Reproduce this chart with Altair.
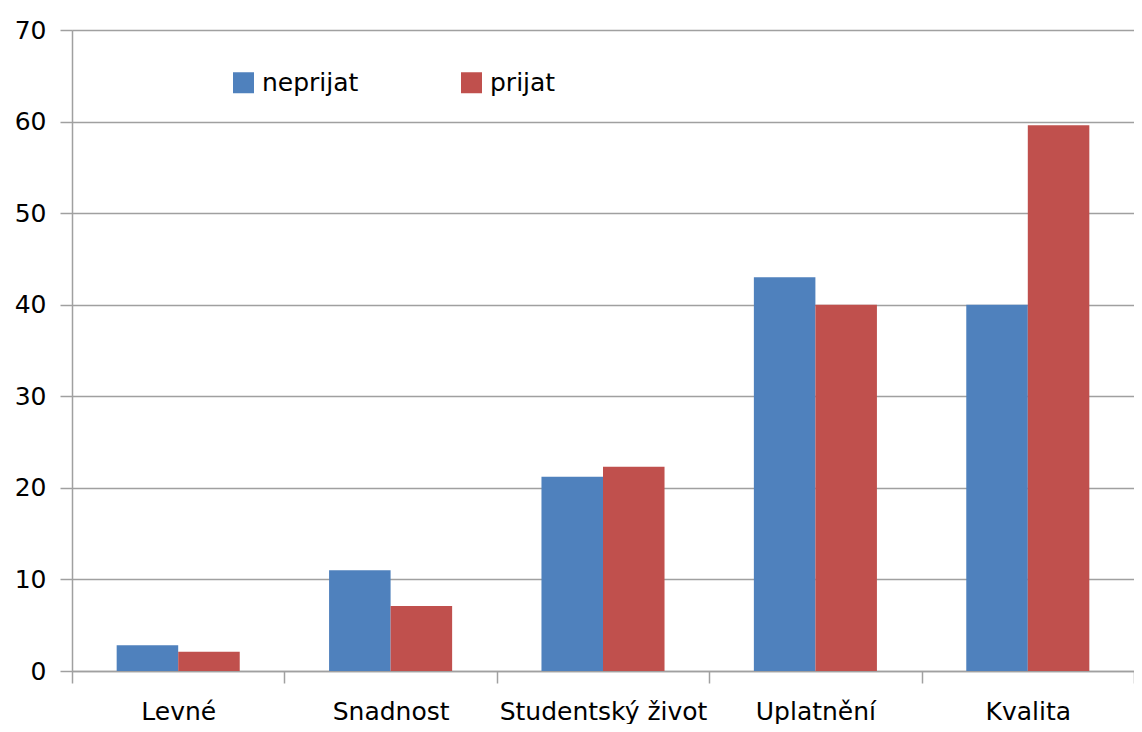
import altair as alt
import pandas as pd

categories = ["Levné", "Snadnost", "Studentský život", "Uplatnění", "Kvalita"]
series = ["neprijat", "prijat"]
neprijat = [2.8, 11.0, 21.2, 43.0, 40.0]
prijat = [2.1, 7.1, 22.3, 40.0, 59.6]
colors = ["#4F81BD", "#C0504D"]

rows = []
for c, a, b in zip(categories, neprijat, prijat):
    rows.append({"cat": c, "series": "neprijat", "value": a})
    rows.append({"cat": c, "series": "prijat", "value": b})
df = pd.DataFrame(rows)

FONT = "DejaVu Sans"

chart = alt.Chart(df).mark_bar().encode(
    x=alt.X("cat:N", sort=categories, title=None,
            scale=alt.Scale(paddingInner=0, paddingOuter=0),
            axis=alt.Axis(labelAngle=0, tickBand="extent", tickSize=12,
                          labelPadding=16, labelFontSize=25, labelFont=FONT,
                          labelLimit=0,
                          labelColor="#000000", domainColor="#a0a0a0",
                          tickColor="#a0a0a0", domainWidth=1.5, tickWidth=1.5,
                          grid=False)),
    xOffset=alt.XOffset("series:N", sort=series,
                        scale=alt.Scale(paddingInner=0, paddingOuter=0.726)),
    y=alt.Y("value:Q", title=None,
            scale=alt.Scale(domain=[0, 70], nice=False),
            axis=alt.Axis(values=[0, 10, 20, 30, 40, 50, 60, 70], tickSize=12,
                          labelPadding=14, labelFontSize=25, labelFont=FONT,
                          labelColor="#000000", domainColor="#a0a0a0",
                          tickColor="#a0a0a0", gridColor="#a0a0a0",
                          domainWidth=1.5, tickWidth=1.5, gridWidth=1.5,
                          grid=True)),
    color=alt.Color("series:N", sort=series,
                    scale=alt.Scale(domain=series, range=colors),
                    legend=alt.Legend(title=None, orient="none", legendX=159, legendY=40,
                                      direction="horizontal", columns=2,
                                      columnPadding=100, symbolType="square",
                                      symbolSize=441, symbolStrokeWidth=0,
                                      labelFontSize=25, labelFont=FONT,
                                      labelColor="#000000", labelOffset=6,
                                      padding=0)),
).properties(
    width=1062, height=641,
    autosize=alt.AutoSizeParams(type="none"),
    padding={"left": 64, "top": 22, "right": 0, "bottom": 53},
).configure_view(stroke=None).configure(background="#ffffff")

chart.save("out.html", embed_options={"renderer": "svg", "actions": False})
